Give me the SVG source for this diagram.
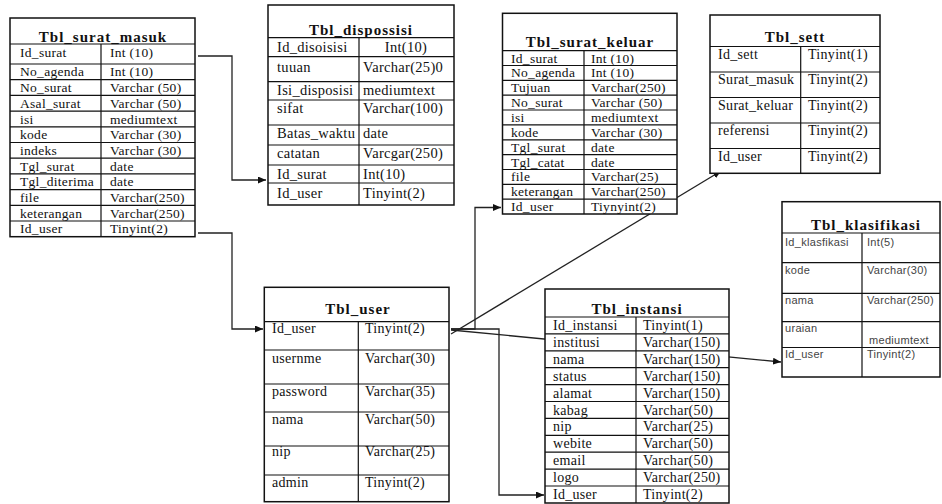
<svg xmlns="http://www.w3.org/2000/svg" width="942" height="504" viewBox="0 0 942 504">
<defs>
<marker id="arr" markerUnits="userSpaceOnUse" markerWidth="8" markerHeight="7" refX="8" refY="3.5" orient="auto">
<path d="M0,0 L8,3.5 L0,7 z" fill="#111"/>
</marker>
<style>
.box{fill:#fff;stroke:#111;stroke-width:1.5}
.g{stroke:#111;stroke-width:1.2;fill:none}
.t{font-family:"Liberation Serif","Times New Roman",serif;fill:#111;letter-spacing:0.3px}
.h{font-family:"Liberation Serif","Times New Roman",serif;font-weight:bold;fill:#111;font-size:15px;letter-spacing:1px;text-anchor:middle}
.s{font-family:"Liberation Sans",Arial,sans-serif;fill:#444;font-size:11px;letter-spacing:0.3px}
.c{stroke:#222;stroke-width:1.3;fill:none}
</style>
</defs>
<rect width="942" height="504" fill="#fff"/>

<g id="connectors">
<path class="c" d="M198,56 H232 V180 H266" marker-end="url(#arr)"/>
<path class="c" d="M198,233 H232 V329 H263" marker-end="url(#arr)"/>
<path class="c" d="M451,329 H475 V207.5 H501" marker-end="url(#arr)"/>
<path class="c" d="M451,334 L721,171" marker-end="url(#arr)"/>
<path class="c" d="M451,329 H499 V495 H544" marker-end="url(#arr)"/>
<path class="c" d="M451,330 L781,362" marker-end="url(#arr)"/>
</g>

<g id="tbl_surat_masuk">
<rect class="box" x="10" y="18" width="185" height="218.7"/>
<path class="g" d="M10,44 H195 M101,44 V236.7 M10,64 H195 M10,79.7 H195 M10,95.4 H195 M10,111.1 H195 M10,126.8 H195 M10,142.5 H195 M10,158.2 H195 M10,173.9 H195 M10,189.6 H195 M10,205.3 H195 M10,221 H195"/>
<text class="h" x="103" y="42">Tbl_surat_masuk</text>
<g class="t" font-size="13.5">
<text x="20" y="57">Id_surat</text><text x="110" y="57">Int (10)</text>
<text x="20" y="76.4">No_agenda</text><text x="110" y="76.4">Int (10)</text>
<text x="20" y="92">No_surat</text><text x="110" y="92">Varchar (50)</text>
<text x="20" y="107.8">Asal_surat</text><text x="110" y="107.8">Varchar (50)</text>
<text x="20" y="123.5">isi</text><text x="110" y="123.5">mediumtext</text>
<text x="20" y="139.2">kode</text><text x="110" y="139.2">Varchar (30)</text>
<text x="20" y="154.9">indeks</text><text x="110" y="154.9">Varchar (30)</text>
<text x="20" y="170.5">Tgl_surat</text><text x="110" y="170.5">date</text>
<text x="20" y="186.2">Tgl_diterima</text><text x="110" y="186.2">date</text>
<text x="20" y="202">file</text><text x="110" y="202">Varchar(250)</text>
<text x="20" y="217.5">keterangan</text><text x="110" y="217.5">Varchar(250)</text>
<text x="20" y="233.4">Id_user</text><text x="110" y="233.4">Tinyint(2)</text>
</g>
</g>

<g id="tbl_dispossisi">
<rect class="box" x="268" y="5" width="186" height="200"/>
<path class="g" d="M268,37.7 H454 M359,37.7 V205 M268,56.7 H454 M268,81.7 H454 M268,100 H454 M268,125 H454 M268,145 H454 M268,165 H454 M268,183 H454"/>
<text class="h" x="361" y="35">Tbl_dispossisi</text>
<g class="t" font-size="14.5">
<text x="277" y="51.5">Id_disoisisi</text><text x="406" y="51.5" text-anchor="middle">Int(10)</text>
<text x="277" y="71.5">tuuan</text><text x="363" y="71.5">Varchar(25)0</text>
<text x="277" y="95">Isi_disposisi</text><text x="363" y="95">mediumtext</text>
<text x="277" y="113">sifat</text><text x="363" y="113">Varchar(100)</text>
<text x="277" y="138">Batas_waktu</text><text x="363" y="138">date</text>
<text x="277" y="158">catatan</text><text x="363" y="158">Varcgar(250)</text>
<text x="277" y="179">Id_surat</text><text x="363" y="179">Int(10)</text>
<text x="277" y="198">Id_user</text><text x="363" y="198">Tinyint(2)</text>
</g>
</g>

<g id="tbl_surat_keluar">
<rect class="box" x="502.5" y="13.3" width="174.5" height="200.7"/>
<path class="g" d="M502.5,50.6 H677 M584,50.6 V214 M502.5,65.5 H677 M502.5,80.3 H677 M502.5,95.2 H677 M502.5,110 H677 M502.5,124.9 H677 M502.5,139.8 H677 M502.5,154.6 H677 M502.5,169.5 H677 M502.5,184.3 H677 M502.5,199.2 H677"/>
<text class="h" x="590" y="47">Tbl_surat_keluar</text>
<g class="t" font-size="13.5">
<text x="511" y="62.5">Id_surat</text><text x="591" y="62.5">Int (10)</text>
<text x="511" y="77.4">No_agenda</text><text x="591" y="77.4">Int (10)</text>
<text x="511" y="92.2">Tujuan</text><text x="591" y="92.2">Varchar(250)</text>
<text x="511" y="107.1">No_surat</text><text x="591" y="107.1">Varchar (50)</text>
<text x="511" y="121.9">isi</text><text x="591" y="121.9">mediumtext</text>
<text x="511" y="136.8">kode</text><text x="591" y="136.8">Varchar (30)</text>
<text x="511" y="151.7">Tgl_surat</text><text x="591" y="151.7">date</text>
<text x="511" y="166.5">Tgl_catat</text><text x="591" y="166.5">date</text>
<text x="511" y="181.4">file</text><text x="591" y="181.4">Varchar(25)</text>
<text x="511" y="196.3">keterangan</text><text x="591" y="196.3">Varchar(250)</text>
<text x="511" y="211.1">Id_user</text><text x="591" y="211.1">Tiynyint(2)</text>
</g>
</g>

<g id="tbl_sett">
<rect class="box" x="710" y="15" width="170" height="158.3"/>
<path class="g" d="M710,46.5 H880 M800.7,46.5 V173.3 M710,72 H880 M710,97.5 H880 M710,123 H880 M710,148.5 H880"/>
<text class="h" x="795" y="42">Tbl_sett</text>
<g class="t" font-size="14">
<text x="718" y="58.5">Id_sett</text><text x="808" y="58.5">Tinyint(1)</text>
<text x="718" y="84">Surat_masuk</text><text x="808" y="84">Tinyint(2)</text>
<text x="718" y="109.5">Surat_keluar</text><text x="808" y="109.5">Tinyint(2)</text>
<text x="718" y="135">referensi</text><text x="808" y="135">Tinyint(2)</text>
<text x="718" y="160.5">Id_user</text><text x="808" y="160.5">Tinyint(2)</text>
</g>
</g>

<g id="tbl_klasifikasi">
<rect class="box" x="782" y="201.7" width="158" height="175.3"/>
<path class="g" d="M782,233 H940 M862,233 V377 M782,262.7 H940 M782,293.3 H940 M782,321.7 H940 M782,347.5 H940"/>
<text class="h" x="866" y="230">Tbl_klasifikasi</text>
<g class="s">
<text x="785" y="245.5">Id_klasfikasi</text><text x="867" y="245.5">Int(5)</text>
<text x="785" y="274">kode</text><text x="867" y="274">Varchar(30)</text>
<text x="785" y="304">nama</text><text x="867" y="304">Varchar(250)</text>
<text x="785" y="332">uraian</text><text x="869" y="344">mediumtext</text>
<text x="785" y="358">Id_user</text><text x="867" y="358">Tinyint(2)</text>
</g>
</g>

<g id="tbl_user">
<rect class="box" x="264.3" y="287.3" width="184.7" height="214.4"/>
<path class="g" d="M264.3,321.7 H449 M358.3,321.7 V501.7 M264.3,350 H449 M264.3,384 H449 M264.3,412 H449 M264.3,446 H449 M264.3,475 H449"/>
<text class="h" x="358" y="314">Tbl_user</text>
<g class="t" font-size="14">
<text x="272" y="333">Id_user</text><text x="365" y="333">Tinyint(2)</text>
<text x="272" y="362.5">usernme</text><text x="365" y="362.5">Varchar(30)</text>
<text x="272" y="396">password</text><text x="365" y="396">Varchar(35)</text>
<text x="272" y="423.5">nama</text><text x="365" y="423.5">Varchar(50)</text>
<text x="272" y="456">nip</text><text x="365" y="456">Varchar(25)</text>
<text x="272" y="487">admin</text><text x="365" y="487">Tinyint(2)</text>
</g>
</g>

<g id="tbl_instansi">
<rect class="box" x="545" y="289" width="184" height="214"/>
<path class="g" d="M545,317 H729 M636,317 V503 M545,333.9 H729 M545,350.8 H729 M545,367.7 H729 M545,384.6 H729 M545,401.5 H729 M545,418.4 H729 M545,435.3 H729 M545,452.2 H729 M545,469.1 H729 M545,486 H729"/>
<text class="h" x="637" y="314">Tbl_instansi</text>
<g class="t" font-size="14">
<text x="553" y="330">Id_instansi</text><text x="643" y="330">Tinyint(1)</text>
<text x="553" y="346.9">institusi</text><text x="643" y="346.9">Varchar(150)</text>
<text x="553" y="363.8">nama</text><text x="643" y="363.8">Varchar(150)</text>
<text x="553" y="380.7">status</text><text x="643" y="380.7">Varchar(150)</text>
<text x="553" y="397.6">alamat</text><text x="643" y="397.6">Varchar(150)</text>
<text x="553" y="414.5">kabag</text><text x="643" y="414.5">Varchar(50)</text>
<text x="553" y="431.4">nip</text><text x="643" y="431.4">Varchar(25)</text>
<text x="553" y="448.3">webite</text><text x="643" y="448.3">Varchar(50)</text>
<text x="553" y="465.2">email</text><text x="643" y="465.2">Varchar(50)</text>
<text x="553" y="482.1">logo</text><text x="643" y="482.1">Varchar(250)</text>
<text x="553" y="499">Id_user</text><text x="643" y="499">Tinyint(2)</text>
</g>
</g>
</svg>
